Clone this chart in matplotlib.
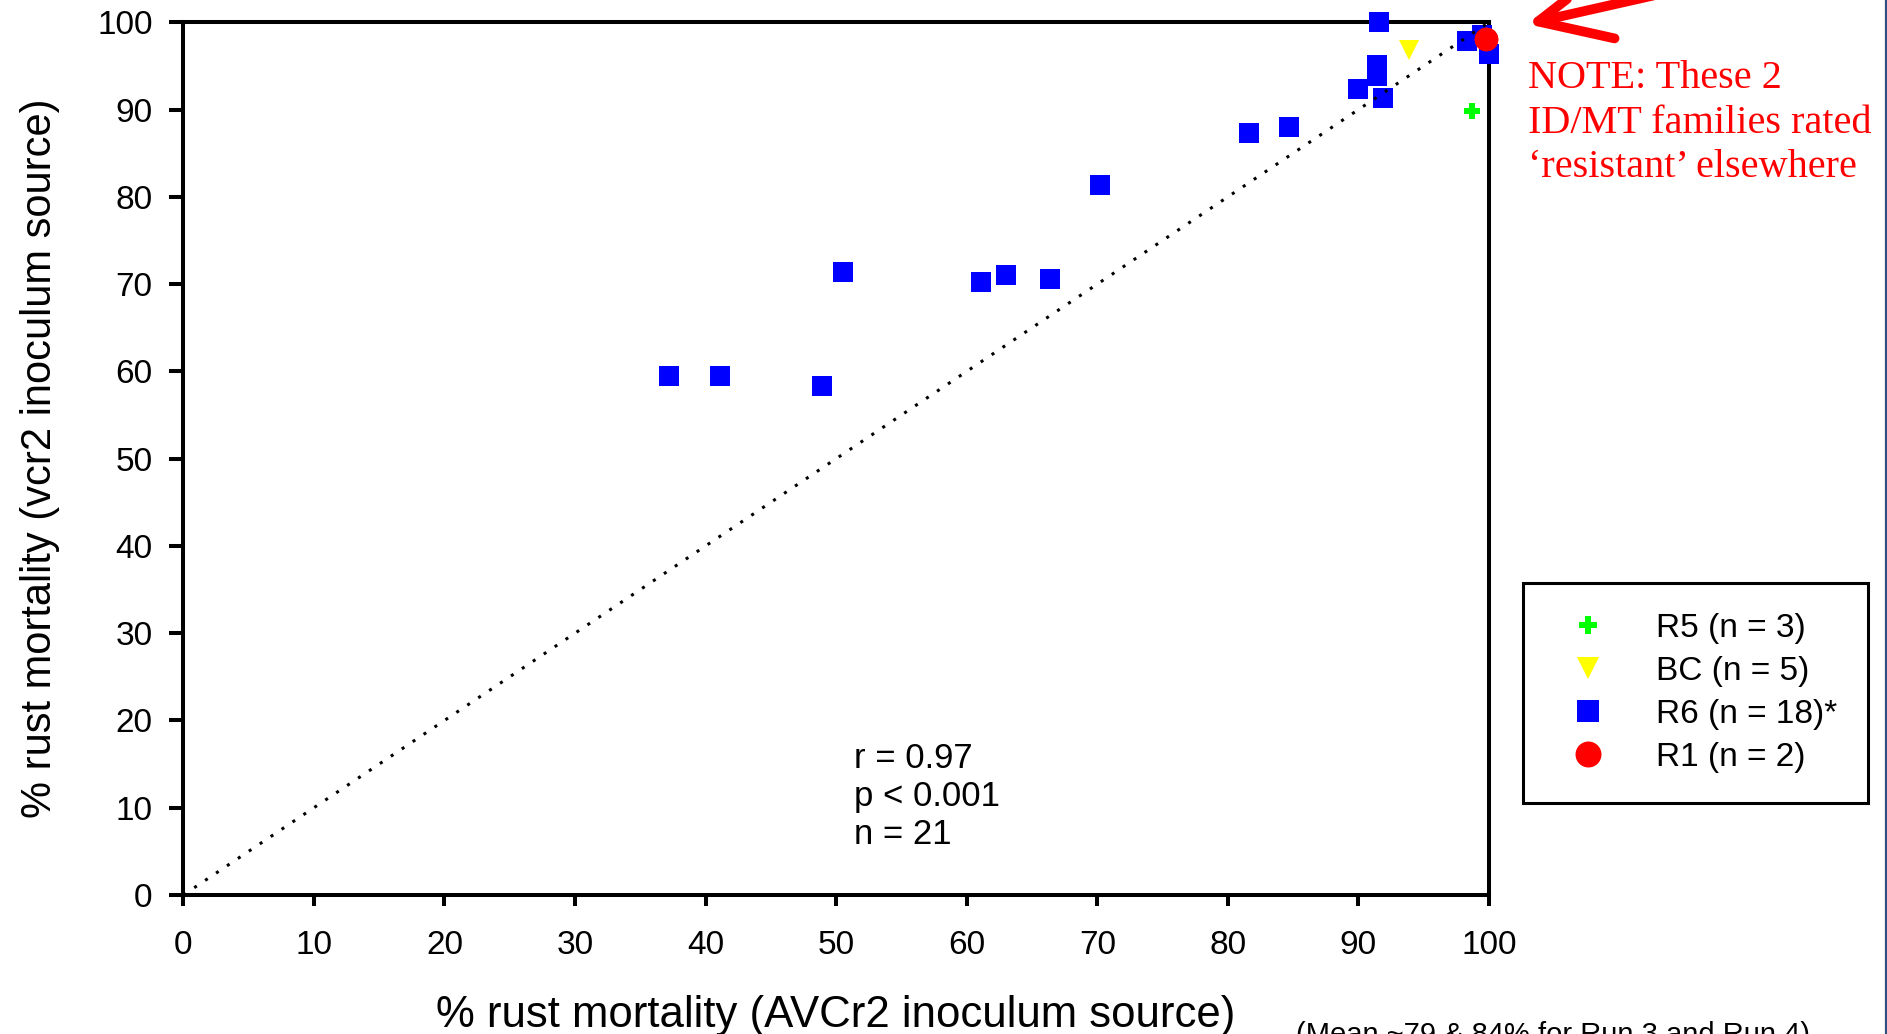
import matplotlib
matplotlib.use("Agg")
import matplotlib.pyplot as plt
from matplotlib.lines import Line2D

# ---- data ----
r6_x = [37.2, 41.1, 48.9, 50.5, 61.1, 63.0, 66.4, 70.2, 81.6, 84.7, 90.0, 91.9, 91.4, 91.4, 91.6, 98.3, 100.0, 99.5]
r6_y = [59.5, 59.5, 58.3, 71.4, 70.2, 71.0, 70.6, 81.3, 87.3, 88.0, 92.4, 91.3, 95.1, 93.9, 100.0, 97.9, 96.4, 98.5]
bc_x = [93.9]
bc_y = [96.8]
r5_x = [98.7]
r5_y = [89.8]
r1_x = [99.8, 99.8]
r1_y = [98.1, 98.1]
labels = ["R5 (n = 3)", "BC (n = 5)", "R6 (n = 18)*", "R1 (n = 2)"]
ticks = [0, 10, 20, 30, 40, 50, 60, 70, 80, 90, 100]
stats = ["r = 0.97", "p < 0.001", "n = 21"]
note_lines = ["NOTE: These 2", "ID/MT families rated", "\u2018resistant\u2019 elsewhere"]
xlabel = "% rust mortality (AVCr2 inoculum source)"
ylabel = "% rust mortality (vcr2 inoculum source)"
footnote = "(Mean ~79 & 84% for Run 3 and Run 4)"

plt.rcParams['font.family'] = ['Liberation Sans', 'DejaVu Sans']

W, H = 1887, 1034
fig = plt.figure(figsize=(W / 100, H / 100), dpi=100)
ax = fig.add_axes([183.3 / W, 1 - 895 / H, (1489 - 183.3) / W, (895 - 22.3) / H])

ax.plot([0, 100], [0, 100], color='black', lw=2.2, dashes=(1, 3.3), zorder=6, clip_on=False)

h_r5, = ax.plot(r5_x, r5_y, linestyle='none', marker='P', ms=12, color='#00ff00', mew=0, zorder=5, clip_on=False)
h_bc, = ax.plot(bc_x, bc_y, linestyle='none', marker='v', ms=15, color='#ffff00', mew=0, zorder=5, clip_on=False)
h_r6, = ax.plot(r6_x, r6_y, linestyle='none', marker='s', ms=14.5, color='#0000ff', mew=0, zorder=5, clip_on=False)
h_r1, = ax.plot(r1_x, r1_y, linestyle='none', marker='o', ms=17, color='#ff0000', mew=0, zorder=7, clip_on=False)

ax.set_xlim(0, 100)
ax.set_ylim(0, 100)
ax.set_xticks(ticks)
ax.set_yticks(ticks)
for s in ax.spines.values():
    s.set_linewidth(2.9)
    s.set_color('black')
ax.tick_params(axis='both', direction='out', width=2.9, colors='black', labelsize=24)
ax.tick_params(axis='x', length=8, pad=17)
ax.tick_params(axis='y', length=10, pad=12)

ax.set_xlabel(xlabel, fontsize=31.5)
ax.set_ylabel(ylabel, fontsize=30)
ax.xaxis.set_label_coords(0.5, (895 - 995) / 872.7)
ax.yaxis.set_label_coords((60 - 183.3) / 1306, 0.5)

for txt, yb in zip(stats, [14.5, 10.2, 5.8]):
    ax.text(51.4, yb, txt, fontsize=25, va='baseline', ha='left')

leg = ax.legend([h_r5, h_bc, h_r6, h_r1], labels, loc='upper left',
                bbox_to_anchor=(1523 / W, 1 - 583 / H), bbox_transform=fig.transFigure,
                fontsize=24, frameon=True, fancybox=False, framealpha=1, edgecolor='black',
                numpoints=1, markerscale=1.1, borderpad=0.9, borderaxespad=0, handlelength=2.1,
                handletextpad=1.0, labelspacing=0.36)
leg.get_frame().set_linewidth(2.2)

for txt, yb in zip(note_lines, [88, 133, 177]):
    fig.text(1528 / W, 1 - yb / H, txt, color='red', fontsize=29, family='Liberation Serif',
             va='baseline', ha='left')

fig.text(1296 / W, -9 / H, footnote, fontsize=21, va='baseline', ha='left')

ax.annotate('', xy=(1527, H - 24), xycoords='figure pixels',
            xytext=(1660, H + 6), textcoords='figure pixels',
            arrowprops=dict(arrowstyle='->,head_length=1.7,head_width=0.8', color='red', lw=7,
                            mutation_scale=30, capstyle='round', joinstyle='round',
                            shrinkA=0, shrinkB=0),
            annotation_clip=False)

fig.add_artist(Line2D([1885.5 / W, 1885.5 / W], [0, 1], color='#2F4D7E', lw=1.6,
                      transform=fig.transFigure))

fig.savefig('out.png', dpi=100)
